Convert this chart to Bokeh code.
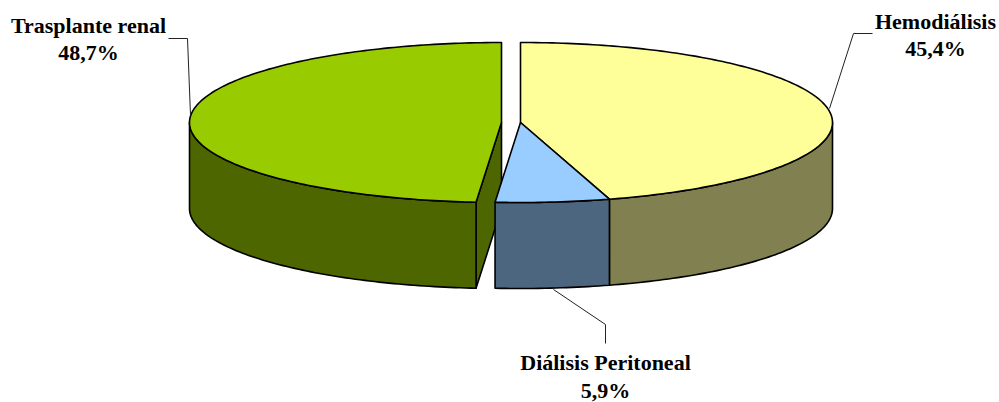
import numpy as np
from bokeh.plotting import figure
from bokeh.models import Range1d
from bokeh.core.properties import value
from bokeh.embed import file_html
from bokeh.resources import INLINE

# Data, clockwise from twelve o'clock
labels = ["Hemodiálisis", "Diálisis Peritoneal", "Trasplante renal"]
pct_labels = ["45,4%", "5,9%", "48,7%"]
shares = [45.4, 5.9, 48.7]
top_colors = ["#FFFF99", "#99CCFF", "#99CC00"]
wall_colors = ["#808050", "#4D6680", "#4D6600"]

# Layout of the page, in window pixels
apex_x = [520, 520, 501]
CY, RX, RY, DEPTH = 122, 312, 80, 86
name_xy = [(935, 21), (605, 362), (88, 25)]
pct_xy = [(935, 48), (605, 390), (88, 52)]
leaders = [[(829, 108), (853, 33), (872, 33)],
           [(553, 289), (605, 324), (605, 343)],
           [(168, 38), (187, 38), (190, 115)]]

p = figure(width=999, height=402, output_backend="svg", toolbar_location=None,
           x_range=Range1d(0, 999), y_range=Range1d(402, 0),
           min_border=0, outline_line_color=None, background_fill_color="white")
p.axis.visible = False
p.grid.visible = False

edges = np.cumsum([0] + shares) / sum(shares) * 2 * np.pi


def arc(cx, a, b, dy=0):
    t = np.linspace(a, b, max(int((b - a) * 60), 2))
    return cx + RX * np.sin(t), CY + dy - RY * np.cos(t)


style = dict(line_color="black", line_width=1.6, line_join="round")

# Cut face of the pulled-out slice
i = 2
ax, ay = arc(apex_x[i], edges[i], edges[i], 0)
p.patch([apex_x[i], ax[0], ax[0], apex_x[i]],
        [CY, ay[0], ay[0] + DEPTH, CY + DEPTH],
        fill_color=wall_colors[i], **style)

# Outer walls, only the front half of the rim is visible
for i in range(3):
    a = max(edges[i], np.pi / 2)
    b = min(edges[i + 1], 3 * np.pi / 2)
    if a >= b:
        continue
    x1, y1 = arc(apex_x[i], a, b)
    x2, y2 = arc(apex_x[i], a, b, DEPTH)
    p.patch(np.r_[x1, x2[::-1]], np.r_[y1, y2[::-1]],
            fill_color=wall_colors[i], **style)

# Top faces
for i in range(3):
    x, y = arc(apex_x[i], edges[i], edges[i + 1])
    p.patch(np.r_[apex_x[i], x], np.r_[CY, y], fill_color=top_colors[i], **style)

# Leader lines
for pts in leaders:
    xs, ys = zip(*pts)
    p.line(list(xs), list(ys), line_color="#222222", line_width=1)

# Labels
for names, xy in ((labels, name_xy), (pct_labels, pct_xy)):
    p.text([q[0] for q in xy], [q[1] for q in xy], text=names,
           text_font=value("Liberation Serif"), text_font_style="bold",
           text_font_size="22px", text_color="black",
           text_align="center", text_baseline="middle")

open("out.html", "w").write(file_html(p, INLINE))
